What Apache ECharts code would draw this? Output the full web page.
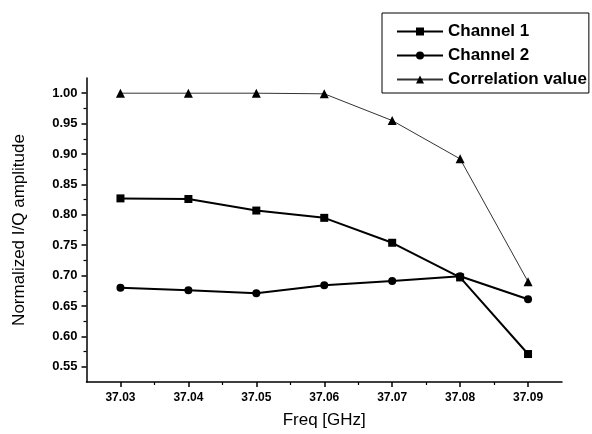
<!DOCTYPE html>
<html>
<head>
<meta charset="utf-8">
<script src="https://cdn.jsdelivr.net/npm/echarts@6/dist/echarts.min.js"></script>
<style>
html, body { margin: 0; padding: 0; background: #fff; }
#main { width: 592px; height: 434px; }
</style>
</head>
<body>
<div id="main"></div>
<script>
// frequency points (GHz)
var freqs = [37.03, 37.04, 37.05, 37.06, 37.07, 37.08, 37.09];
// values
var channel1 = [0.827, 0.826, 0.807, 0.795, 0.754, 0.697, 0.571];
var channel2 = [0.680, 0.676, 0.671, 0.684, 0.691, 0.699, 0.661];
var correlation = [1.000, 1.000, 1.000, 0.999, 0.955, 0.892, 0.690];
// tick labels
var yTicks = [0.55, 0.60, 0.65, 0.70, 0.75, 0.80, 0.85, 0.90, 0.95, 1.00];
var yMinor = [0.575, 0.625, 0.675, 0.725, 0.775, 0.825, 0.875, 0.925, 0.975];
var xTicks = [37.03, 37.04, 37.05, 37.06, 37.07, 37.08, 37.09];
var xMinor = [37.035, 37.045, 37.055, 37.065, 37.075, 37.085];

function pairs(vals) {
    var out = [];
    for (var i = 0; i < freqs.length; i++) {
        out.push([freqs[i], vals[i]]);
    }
    return out;
}

var font = 'Liberation Sans, Arial, sans-serif';
var myChart = echarts.init(document.getElementById('main'));

option = {
    animation: false,
    backgroundColor: '#fff',
    grid: { left: 86.5, right: 30, top: 78, bottom: 52, containLabel: false },
    legend: {
        orient: 'vertical',
        left: 382,
        top: 13,
        padding: [10, 2, 5, 14],
        borderColor: '#000',
        borderWidth: 1,
        backgroundColor: '#fff',
        itemWidth: 46,
        itemHeight: 10,
        itemGap: 7,
        textStyle: { fontFamily: font, fontSize: 17, fontWeight: 'bold', color: '#000' },
        data: ['Channel 1', 'Channel 2', 'Correlation value']
    },
    xAxis: [{
        type: 'value',
        min: 37.025,
        max: 37.095,
        name: 'Freq [GHz]',
        nameLocation: 'middle',
        nameGap: 30,
        nameTextStyle: { fontFamily: font, fontSize: 17, color: '#000' },
        splitLine: { show: false },
        axisLine: { lineStyle: { color: '#000', width: 1.5 } },
        axisTick: { customValues: xTicks, length: 5, lineStyle: { color: '#000', width: 1.5 } },
        axisLabel: {
            customValues: xTicks,
            margin: 10,
            fontFamily: font, fontSize: 12, fontWeight: 'bold', color: '#000',
            formatter: function (v) { return v.toFixed(2); }
        }
    }, {
        type: 'value',
        min: 37.025,
        max: 37.095,
        position: 'bottom',
        splitLine: { show: false },
        axisLine: { show: false },
        axisTick: { customValues: xMinor, length: 3, lineStyle: { color: '#000', width: 1.2 } },
        axisLabel: { show: false }
    }],
    yAxis: [{
        type: 'value',
        min: 0.525,
        max: 1.025,
        name: 'Normalized I/Q amplitude',
        nameLocation: 'middle',
        nameGap: 59,
        nameTextStyle: { fontFamily: font, fontSize: 17, color: '#000' },
        splitLine: { show: false },
        axisLine: { show: true, lineStyle: { color: '#000', width: 1.5 } },
        axisTick: { show: true, customValues: yTicks, length: 5, lineStyle: { color: '#000', width: 1.5 } },
        axisLabel: {
            customValues: yTicks,
            margin: 9,
            fontFamily: font, fontSize: 13, fontWeight: 'bold', color: '#000',
            formatter: function (v) { return v.toFixed(2); }
        }
    }, {
        type: 'value',
        min: 0.525,
        max: 1.025,
        position: 'left',
        splitLine: { show: false },
        axisLine: { show: false },
        axisTick: { show: true, customValues: yMinor, length: 3, lineStyle: { color: '#000', width: 1.2 } },
        axisLabel: { show: false }
    }],
    series: [{
        name: 'Channel 1',
        type: 'line',
        data: pairs(channel1),
        symbol: 'rect',
        symbolSize: 8,
        lineStyle: { color: '#000', width: 2 },
        itemStyle: { color: '#000' }
    }, {
        name: 'Channel 2',
        type: 'line',
        data: pairs(channel2),
        symbol: 'circle',
        symbolSize: 8,
        lineStyle: { color: '#000', width: 2 },
        itemStyle: { color: '#000' }
    }, {
        name: 'Correlation value',
        type: 'line',
        data: pairs(correlation),
        symbol: 'triangle',
        symbolSize: 9,
        lineStyle: { color: '#333', width: 1 },
        itemStyle: { color: '#000' }
    }]
};
myChart.setOption(option);
</script>
</body>
</html>
